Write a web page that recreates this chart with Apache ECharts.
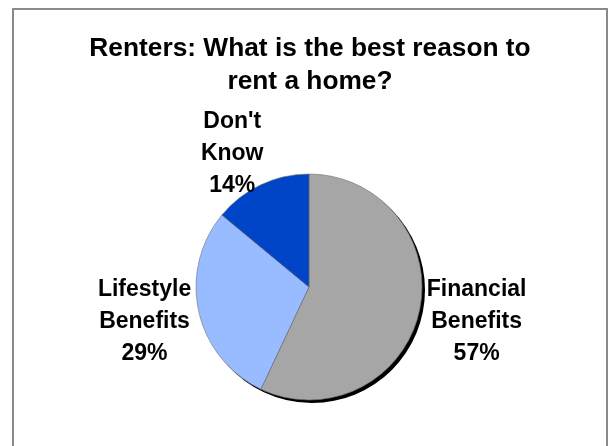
<!DOCTYPE html>
<html>
<head>
<meta charset="utf-8">
<script src="https://cdn.jsdelivr.net/npm/echarts@6/dist/echarts.min.js"></script>
<style>
  html, body { margin: 0; padding: 0; background: #fff; }
  #chart { width: 609px; height: 446px; }
</style>
</head>
<body>
<div id="chart"></div>
<script>
// Survey answers: best reason to rent a home
const categories = ['Financial Benefits', 'Lifestyle Benefits', "Don't Know"];
const shares = [57, 29, 14];
const sliceColors = ['#A6A6A6', '#99BBFF', '#0044C8'];

const titleText = 'Renters: What is the best reason to\nrent a home?';

const pieCenter = [309, 287];
const pieRadius = 113;

// mid angle of each slice (clockwise from 12 o'clock)
const total = shares.reduce((a, b) => a + b, 0);
let acc = 0;
const midAngles = shares.map(v => {
  const m = (acc + v / 2) / total * 2 * Math.PI;
  acc += v;
  return m;
});

const pieData = categories.map((name, i) => ({
  name: name,
  value: shares[i],
  itemStyle: { color: sliceColors[i] }
}));

const chart = echarts.init(document.getElementById('chart'), null, { renderer: 'canvas' });

chart.setOption({
  backgroundColor: '#fff',
  animation: false,
  title: {
    text: titleText,
    left: 310,
    textAlign: 'center',
    top: 32,
    padding: 0,
    textStyle: {
      fontFamily: 'Liberation Sans, Arial, sans-serif',
      fontSize: 26.3,
      fontWeight: 'bold',
      lineHeight: 33,
      color: '#000'
    }
  },
  graphic: [{
    type: 'rect',
    silent: true,
    z: -10,
    shape: { x: 13, y: 9, width: 594, height: 460 },
    style: { fill: 'none', stroke: '#8a8a8a', lineWidth: 2 }
  }],
  series: [
    {
      // drop shadow under the pie
      type: 'pie',
      silent: true,
      z: 1,
      center: [pieCenter[0] + 3, pieCenter[1] + 3],
      radius: pieRadius,
      label: { show: false },
      labelLine: { show: false },
      itemStyle: { color: '#000', borderWidth: 0 },
      data: pieData.map(d => ({ name: d.name, value: d.value }))
    },
    {
      type: 'pie',
      z: 2,
      center: pieCenter,
      radius: pieRadius,
      startAngle: 90,
      clockwise: true,
      itemStyle: { borderColor: '#707070', borderWidth: 0.6 },
      labelLine: { show: false },
      label: {
        show: true,
        position: 'outside',
        formatter: p => p.name.replace(' ', '\n') + '\n' + p.value + '%',
        fontFamily: 'Liberation Sans, Arial, sans-serif',
        fontSize: 23,
        fontWeight: 'bold',
        lineHeight: 32,
        color: '#000',
        align: 'center'
      },
      // each label sits just outside its slice, along the slice's mid angle
      labelLayout: p => {
        const a = midAngles[p.dataIndex];
        const dx = Math.sin(a), dy = -Math.cos(a);
        const w = p.labelRect.width, h = p.labelRect.height;
        const r = pieRadius + 8;
        return {
          x: pieCenter[0] + r * dx + Math.sign(dx) * Math.pow(Math.abs(dx), 0.25) * w / 2,
          y: pieCenter[1] + r * dy + dy * h * 0.3 + 2,
          align: 'center',
          verticalAlign: 'middle'
        };
      },
      emphasis: { disabled: true },
      data: pieData
    }
  ]
});
</script>
</body>
</html>
